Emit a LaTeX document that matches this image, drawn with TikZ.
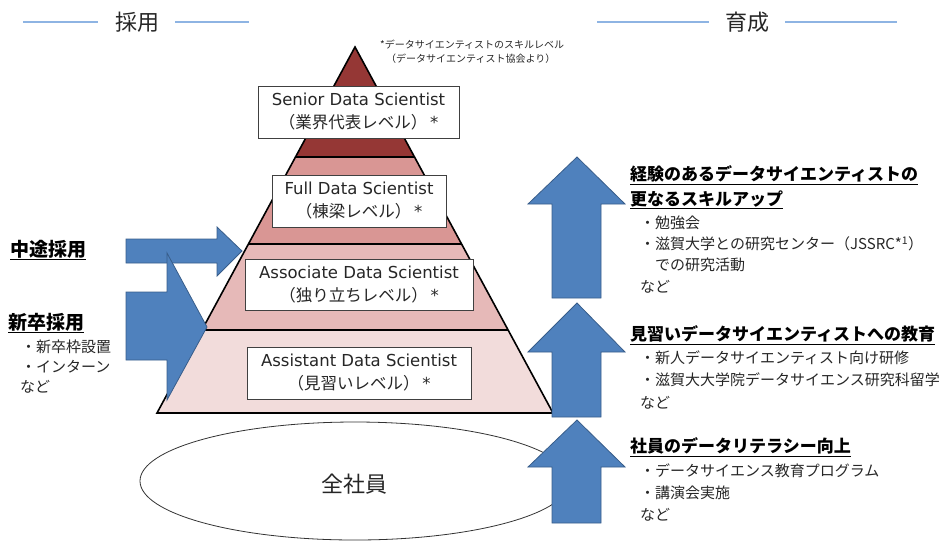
\documentclass[tikz,border=0pt]{standalone}
\usepackage{fontspec}
\usetikzlibrary{shapes.geometric}
\setmainfont{Noto Sans CJK JP}
\newfontfamily\latinf{DejaVu Sans}
\definecolor{arrowfill}{HTML}{4F81BD}
\definecolor{arrowline}{HTML}{385D8A}
\definecolor{bandA}{HTML}{953735}
\definecolor{bandB}{HTML}{D99694}
\definecolor{bandC}{HTML}{E6B9B8}
\definecolor{bandD}{HTML}{F2DCDB}
\definecolor{hdrline}{HTML}{8EB4E3}
\definecolor{txt}{HTML}{262626}
\tikzset{
  blockarrow/.style={fill=arrowfill,draw=arrowline,line width=0.8pt,line join=miter},
  levelbox/.style={draw=black!75,fill=white,line width=0.9pt,align=center,inner sep=0pt,text=txt,font=\fontsize{16.5}{23}\selectfont},
  hdr/.style={font=\fontsize{22}{26}\selectfont,text=txt,fill=white,inner sep=3pt},
  hdrrule/.style={draw=hdrline,line width=1.5pt},
  headline/.style={anchor=west,font=\fontsize{17}{20}\selectfont\bfseries,text=black,inner sep=0pt},
  lefthead/.style={anchor=west,font=\fontsize{19}{22}\selectfont\bfseries,text=black,inner sep=0pt},
  bodyline/.style={anchor=west,font=\fontsize{15}{18}\selectfont,text=txt,inner sep=0pt},
}
\begin{document}
\begin{tikzpicture}[x=1pt,y=-1pt]
\useasboundingbox (0,0) rectangle (952,542);
% header
\draw[hdrrule] (23,22) -- (98,22);
\draw[hdrrule] (175,22) -- (249,22);
\node[hdr] (saiyo) at (137,22) {採用};
\draw[hdrrule] (597,22) -- (709,22);
\draw[hdrrule] (785,22) -- (897,22);
\node[hdr] (ikusei) at (747,22) {育成};
% footnote
\node[anchor=west,inner sep=0pt,font=\fontsize{10}{12}\selectfont,text=txt] (fn1) at (380,45) {*データサイエンティストのスキルレベル};
\node[anchor=west,inner sep=0pt,font=\fontsize{10}{12}\selectfont,text=txt] (fn2) at (386,59) {（データサイエンティスト協会より）};
% ellipse
\node[draw=black!80,line width=0.8pt,ellipse,minimum width=430pt,minimum height=118pt,inner sep=0pt] (all) at (355,481) {};
\node[font=\fontsize{22}{26}\selectfont,text=txt] (alltxt) at (354,484) {全社員};
% pyramid
\coordinate (apex) at (355,47);
\coordinate (bl) at (157,413);
\coordinate (br) at (553,413);
\coordinate (l1) at (295.5,157); \coordinate (r1) at (414.5,157);
\coordinate (l2) at (248.4,244); \coordinate (r2) at (461.6,244);
\coordinate (l3) at (201.9,330); \coordinate (r3) at (508.1,330);
\fill[bandA] (apex) -- (r1) -- (l1) -- cycle;
\fill[bandB] (l1) -- (r1) -- (r2) -- (l2) -- cycle;
\fill[bandC] (l2) -- (r2) -- (r3) -- (l3) -- cycle;
\fill[bandD] (l3) -- (r3) -- (br) -- (bl) -- cycle;
\draw[line width=1.6pt,line join=miter] (apex) -- (br) -- (bl) -- cycle;
\draw[line width=1.6pt] (l1) -- (r1) (l2) -- (r2) (l3) -- (r3);
% level boxes
\node[levelbox,minimum width=201pt,minimum height=52pt] (senior) at (358.5,112) {{\latinf Senior Data Scientist}\\（業界代表レベル）{\latinf\,*}};
\node[levelbox,minimum width=174pt,minimum height=52pt] (full) at (359,201) {{\latinf Full Data Scientist}\\（棟梁レベル）{\latinf\,*}};
\node[levelbox,minimum width=228pt,minimum height=51pt] (assoc) at (359,284.5) {{\latinf Associate Data Scientist}\\（独り立ちレベル）{\latinf\,*}};
\node[levelbox,minimum width=224pt,minimum height=52pt] (assist) at (359,373) {{\latinf Assistant Data Scientist}\\（見習いレベル）{\latinf\,*}};
% left arrows
\draw[blockarrow] (126,239) -- (217,239) -- (217,227) -- (242,251) -- (217,276) -- (217,263) -- (126,263) -- cycle;
\draw[blockarrow] (126,292) -- (167,292) -- (167,253) -- (207,327) -- (167,400) -- (167,360) -- (126,360) -- cycle;
% right arrows
\draw[blockarrow] (552,298) -- (552,204) -- (528,204) -- (577,157) -- (625,204) -- (601,204) -- (601,298) -- cycle;
\draw[blockarrow] (552,417) -- (552,352) -- (528,352) -- (577,303) -- (625,352) -- (601,352) -- (601,417) -- cycle;
\draw[blockarrow] (552,523) -- (552,467) -- (528,467) -- (577,420) -- (625,467) -- (601,467) -- (601,523) -- cycle;
% left texts
\node[lefthead] (chuto) at (10,250) {\underline{中途採用}};
\node[lefthead] (shinsotsu) at (8,323) {\underline{新卒採用}};
\node[bodyline] (s1) at (21,347) {・新卒枠設置};
\node[bodyline] (s2) at (21,367) {・インターン};
\node[bodyline] (s3) at (20,387) {など};
% right texts
\node[headline] (h1a) at (630,175) {\underline{経験のあるデータサイエンティストの}};
\node[headline] (h1b) at (630,200) {\underline{更なるスキルアップ}};
\node[bodyline] (t1) at (640,223) {・勉強会};
\node[bodyline] (t2) at (640,244) {・滋賀大学との研究センター（JSSRC*\textsuperscript{1}）};
\node[bodyline] (t3) at (655,265) {での研究活動};
\node[bodyline] (t4) at (640,287) {など};
\node[headline] (h2) at (630,335) {\underline{見習いデータサイエンティストへの教育}};
\node[bodyline] (u1) at (640,358) {・新人データサイエンティスト向け研修};
\node[bodyline] (u2) at (640,380) {・滋賀大大学院データサイエンス研究科留学};
\node[bodyline] (u3) at (640,403) {など};
\node[headline] (h3) at (630,447) {\underline{社員のデータリテラシー向上}};
\node[bodyline] (v1) at (640,471) {・データサイエンス教育プログラム};
\node[bodyline] (v2) at (640,493) {・講演会実施};
\node[bodyline] (v3) at (640,515) {など};
\end{tikzpicture}
\end{document}
